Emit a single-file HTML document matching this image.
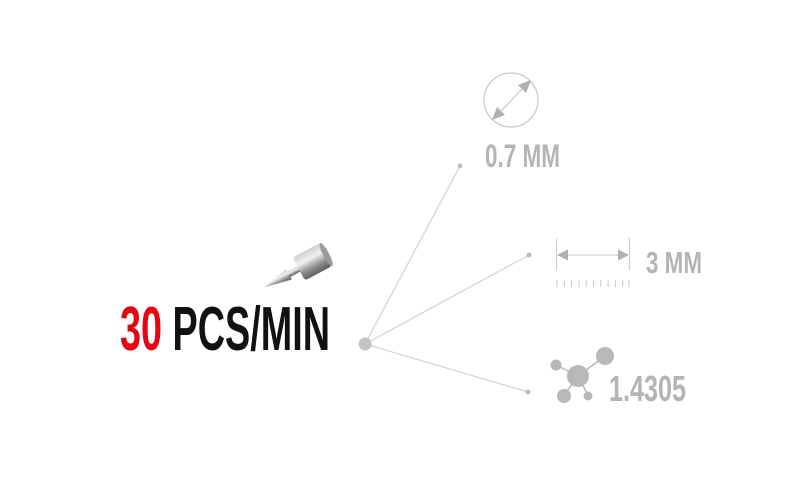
<!DOCTYPE html>
<html><head><meta charset="utf-8"><style>html,body{margin:0;padding:0;background:#fff}svg{display:block}</style></head>
<body>
<svg width="800" height="480" viewBox="0 0 800 480" xmlns="http://www.w3.org/2000/svg">
<defs>
<linearGradient id="cyl" x1="0" y1="0" x2="0" y2="1">
<stop offset="0" stop-color="#d0d0d0"/><stop offset="0.35" stop-color="#f0f0f0"/><stop offset="0.7" stop-color="#8e8e8e"/><stop offset="1" stop-color="#606060"/>
</linearGradient>
</defs>
<g stroke="#d2d2d2" stroke-width="1.2">
<line x1="365" y1="344" x2="460" y2="166"/>
<line x1="365" y1="344" x2="529" y2="255"/>
<line x1="365" y1="344" x2="528" y2="392"/>
</g>
<circle cx="365" cy="344" r="6.5" fill="#c4c4c4"/>
<g fill="#bdbdbd"><circle cx="460" cy="166" r="2.5"/><circle cx="529" cy="255" r="2.5"/><circle cx="528" cy="392" r="2.5"/></g>
<circle cx="511" cy="100" r="27" fill="none" stroke="#c8c8c8" stroke-width="1.2"/>
<line x1="500" y1="112" x2="523" y2="88" stroke="#c8c8c8" stroke-width="1.2"/>
<polygon points="531,80 518,85 526,93" fill="#b0b0b0"/>
<polygon points="492,120 505,115 497,107" fill="#b0b0b0"/>
<g stroke="#d0d0d0" stroke-width="1.2">
<line x1="556.5" y1="238" x2="556.5" y2="270"/>
<line x1="629.5" y1="238" x2="629.5" y2="270"/>
<line x1="566" y1="255" x2="620" y2="255"/>
</g>
<polygon points="557,255 568,249.5 568,260.5" fill="#b0b0b0"/>
<polygon points="629,255 618,249.5 618,260.5" fill="#b0b0b0"/>
<g stroke="#c8c8c8" stroke-width="1">
<line x1="557" y1="280" x2="557" y2="287"/><line x1="564.3" y1="280" x2="564.3" y2="287"/><line x1="571.6" y1="280" x2="571.6" y2="287"/><line x1="578.9" y1="280" x2="578.9" y2="287"/><line x1="586.2" y1="280" x2="586.2" y2="287"/><line x1="593.5" y1="280" x2="593.5" y2="287"/><line x1="600.8" y1="280" x2="600.8" y2="287"/><line x1="608.1" y1="280" x2="608.1" y2="287"/><line x1="615.4" y1="280" x2="615.4" y2="287"/><line x1="622.7" y1="280" x2="622.7" y2="287"/><line x1="629" y1="280" x2="629" y2="287"/>
</g>
<g stroke="#b8b8b8" stroke-width="1.5">
<line x1="578" y1="376" x2="605" y2="356"/><line x1="578" y1="376" x2="556" y2="365"/><line x1="578" y1="376" x2="564" y2="395"/><line x1="578" y1="376" x2="588" y2="395"/>
</g>
<g fill="#b8b8b8">
<circle cx="578" cy="376" r="11"/><circle cx="605" cy="356" r="9"/><circle cx="556" cy="365" r="5.5"/><circle cx="564" cy="396" r="7"/><circle cx="588" cy="396" r="4.5"/>
</g>
<g font-family="Liberation Sans, sans-serif" fill="#b4b4b4" font-weight="bold">
<text x="485" y="167" font-size="32" textLength="75" lengthAdjust="spacingAndGlyphs">0.7 MM</text>
<text x="646" y="273" font-size="31" textLength="56" lengthAdjust="spacingAndGlyphs">3 MM</text>
<text x="609" y="401" font-size="36" textLength="77" lengthAdjust="spacingAndGlyphs">1.4305</text>
</g>
<text x="120" y="350" font-family="Liberation Sans, sans-serif" font-weight="bold" font-size="62" textLength="210" lengthAdjust="spacingAndGlyphs"><tspan fill="#e30613">30</tspan><tspan fill="#111"> PCS/MIN</tspan></text>
<g transform="translate(312 262) rotate(-28)">
<polygon points="-54,0 -26,-6 -26,6" fill="url(#cyl)"/>
<rect x="-27" y="-3" width="14" height="6" fill="url(#cyl)"/>
<rect x="-15" y="-13" width="31" height="26" rx="3" fill="url(#cyl)"/>
<ellipse cx="16" cy="0" rx="3" ry="13" fill="#9a9a9a"/>
</g>
</svg>
</body></html>
